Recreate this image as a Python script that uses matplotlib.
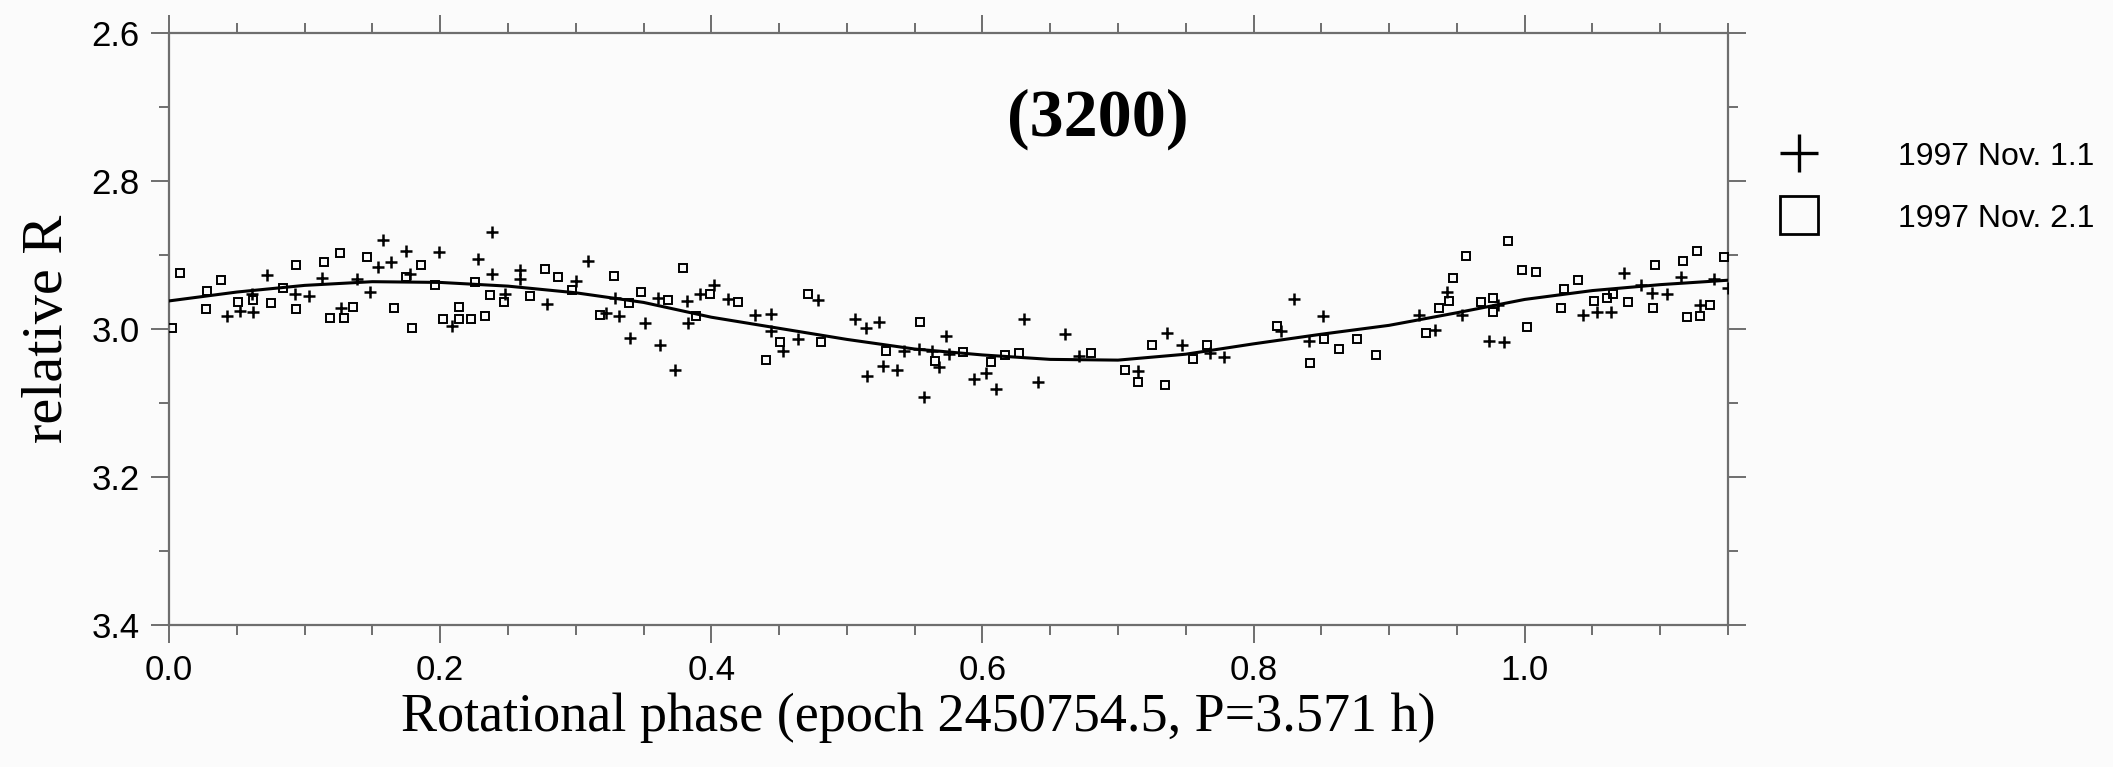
import matplotlib
matplotlib.use('Agg')
import matplotlib.pyplot as plt
from matplotlib.ticker import MultipleLocator
from matplotlib.lines import Line2D

# night 1 (plus markers)
nov1_phase = [0.043, 0.052, 0.062, 0.061, 0.072, 0.093, 0.103, 0.113, 0.127, 0.139,
              0.148, 0.158, 0.154, 0.164, 0.175, 0.178, 0.199, 0.209, 0.228, 0.238,
              0.238, 0.248, 0.259, 0.259, 0.279, 0.300, 0.309, 0.322, 0.332, 0.340,
              0.351, 0.329, 0.362, 0.373, 0.361, 0.382, 0.383, 0.392, 0.402, 0.412,
              0.432, 0.444, 0.444, 0.453, 0.464, 0.479, 0.506, 0.514, 0.524, 0.515,
              0.527, 0.537, 0.542, 0.553, 0.563, 0.568, 0.557, 0.573, 0.575, 0.594,
              0.603, 0.610, 0.631, 0.641, 0.661, 0.671, 0.715, 0.736, 0.747, 0.768,
              0.778, 0.820, 0.830, 0.841, 0.851, 0.922, 0.934, 0.943, 0.954, 0.974,
              0.985, 0.980, 1.043, 1.053, 1.064, 1.073, 1.086, 1.094, 1.105, 1.115,
              1.129, 1.140, 1.150]
nov1_R = [2.983, 2.976, 2.977, 2.952, 2.927, 2.953, 2.955, 2.931, 2.971, 2.933,
          2.950, 2.880, 2.916, 2.910, 2.895, 2.926, 2.896, 2.996, 2.906, 2.869,
          2.926, 2.953, 2.920, 2.933, 2.966, 2.935, 2.908, 2.978, 2.982, 3.012,
          2.992, 2.958, 3.022, 3.055, 2.958, 2.962, 2.992, 2.953, 2.940, 2.959,
          2.981, 2.980, 3.002, 3.029, 3.013, 2.961, 2.987, 2.999, 2.990, 3.063,
          3.050, 3.056, 3.029, 3.027, 3.030, 3.051, 3.092, 3.009, 3.034, 3.068,
          3.059, 3.081, 2.986, 3.071, 3.007, 3.037, 3.057, 3.006, 3.022, 3.032,
          3.038, 3.002, 2.960, 3.016, 2.982, 2.981, 3.001, 2.950, 2.981, 3.016,
          3.017, 2.968, 2.981, 2.977, 2.977, 2.924, 2.941, 2.951, 2.953, 2.929,
          2.968, 2.932, 2.945]

# night 2 (square markers)
nov2_phase = [0.008, 0.002, 0.028, 0.027, 0.038, 0.051, 0.062, 0.075, 0.084, 0.094,
              0.094, 0.114, 0.126, 0.119, 0.129, 0.136, 0.146, 0.166, 0.175, 0.179,
              0.186, 0.196, 0.202, 0.214, 0.214, 0.223, 0.233, 0.226, 0.237, 0.247,
              0.266, 0.277, 0.287, 0.297, 0.318, 0.328, 0.339, 0.348, 0.379, 0.368,
              0.399, 0.420, 0.389, 0.451, 0.440, 0.471, 0.481, 0.554, 0.529, 0.565,
              0.586, 0.606, 0.617, 0.627, 0.680, 0.705, 0.715, 0.735, 0.725, 0.755,
              0.766, 0.817, 0.842, 0.852, 0.863, 0.876, 0.890, 0.927, 0.937, 0.944,
              0.947, 0.957, 0.968, 0.977, 0.977, 0.988, 0.998, 1.008, 1.002, 1.029,
              1.039, 1.027, 1.051, 1.061, 1.065, 1.076, 1.096, 1.095, 1.117, 1.127,
              1.120, 1.129, 1.137, 1.147]
nov2_R = [2.924, 2.999, 2.948, 2.973, 2.934, 2.963, 2.961, 2.965, 2.944, 2.914,
          2.973, 2.909, 2.897, 2.985, 2.985, 2.970, 2.903, 2.972, 2.929, 2.999,
          2.913, 2.941, 2.987, 2.970, 2.987, 2.987, 2.982, 2.937, 2.954, 2.963,
          2.955, 2.919, 2.929, 2.947, 2.981, 2.928, 2.965, 2.950, 2.918, 2.961,
          2.953, 2.963, 2.982, 3.017, 3.042, 2.952, 3.017, 2.990, 3.029, 3.043,
          3.031, 3.044, 3.035, 3.032, 3.032, 3.056, 3.072, 3.075, 3.022, 3.040,
          3.021, 2.996, 3.046, 3.013, 3.027, 3.013, 3.035, 3.005, 2.972, 2.962,
          2.931, 2.901, 2.964, 2.958, 2.977, 2.881, 2.920, 2.923, 2.997, 2.946,
          2.934, 2.971, 2.962, 2.958, 2.953, 2.964, 2.914, 2.971, 2.908, 2.895,
          2.984, 2.983, 2.968, 2.902]

# fitted light curve
fit_phase = [0.00, 0.05, 0.10, 0.15, 0.20, 0.25, 0.30, 0.35, 0.40, 0.45, 0.50, 0.55,
             0.60, 0.65, 0.70, 0.75, 0.80, 0.85, 0.90, 0.95, 1.00, 1.05, 1.10, 1.15]
fit_R = [2.962, 2.950, 2.941, 2.936, 2.937, 2.942, 2.951, 2.964, 2.984, 2.999, 3.014, 3.027,
         3.035, 3.041, 3.042, 3.034, 3.020, 3.007, 2.995, 2.978, 2.960, 2.948, 2.940, 2.934]

xticks = [0.0, 0.2, 0.4, 0.6, 0.8, 1.0]
yticks = [2.6, 2.8, 3.0, 3.2, 3.4]
labels = ['1997 Nov. 1.1', '1997 Nov. 2.1']

sans = 'Liberation Sans'
serif = 'Liberation Serif'

fig = plt.figure(figsize=(21.13, 7.67), dpi=100, facecolor='#fbfbfb')
ax = fig.add_axes([0.0800, 0.1851, 0.7378, 0.7718])
ax.set_facecolor('#fbfbfb')

ax.plot(fit_phase, fit_R, color='black', lw=2.2, zorder=3)
ax.plot(nov1_phase, nov1_R, ls='none', marker='+', ms=9, mew=1.8, color='black', zorder=4)
ax.plot(nov2_phase, nov2_R, ls='none', marker='s', ms=6, mew=1.4, mfc='none', mec='black', zorder=4)

ax.set_xlim(0, 1.15)
ax.set_ylim(3.4, 2.6)
ax.set_xticks(xticks)
ax.set_xticklabels(['%.1f' % v for v in xticks])
ax.set_yticks(yticks)
ax.set_yticklabels(['%.1f' % v for v in yticks])
ax.xaxis.set_minor_locator(MultipleLocator(0.05))
ax.yaxis.set_minor_locator(MultipleLocator(0.1))

for s in ax.spines.values():
    s.set_color('#6e6e6e')
    s.set_linewidth(1.6)
ax.tick_params(which='both', direction='out', top=True, right=True, color='#6e6e6e', width=1.4)
ax.tick_params(which='major', length=13, pad=8, labelsize=25)
ax.tick_params(which='minor', length=7)
for lab in ax.get_xticklabels() + ax.get_yticklabels():
    lab.set_fontfamily(sans)

fig.text(0.4345, 0.064, 'Rotational phase (epoch 2450754.5, P=3.571 h)',
         family=serif, fontsize=39, ha='center', va='center')
fig.text(0.0225, 0.571, 'relative R', family=serif, fontsize=42,
         rotation=90, ha='center', va='center')
fig.text(0.5196, 0.845, '(3200)', family=serif, fontsize=49, fontweight='bold',
         ha='center', va='center')

handles = [Line2D([], [], ls='none', marker='+', ms=28, mew=2.4, color='black'),
           Line2D([], [], ls='none', marker='s', ms=28, mew=2.0, mfc='none', mec='black')]
fig.legend(handles, labels, loc='center left', bbox_to_anchor=(0.8363, 0.7555),
           frameon=False, prop={'family': sans, 'size': 23}, handlelength=2.0,
           handletextpad=2.1, labelspacing=1.0, borderpad=0, borderaxespad=0)

fig.savefig('out.png', dpi=100, facecolor=fig.get_facecolor())
